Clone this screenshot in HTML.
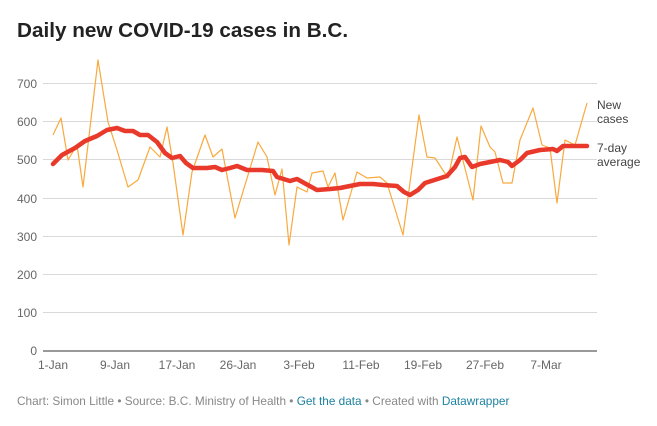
<!DOCTYPE html>
<html><head><meta charset="utf-8"><style>
body{margin:0;background:#fff;width:657px;height:421px;overflow:hidden;font-family:"Liberation Sans",sans-serif}
</style></head><body>
<svg width="657" height="421" xmlns="http://www.w3.org/2000/svg" font-family="Liberation Sans, sans-serif">
<text x="17" y="37" font-size="20.7" font-weight="bold" fill="#222">Daily new COVID-19 cases in B.C.</text>
<g stroke="#d9d9d9" stroke-width="1">
<line x1="43" x2="597" y1="83.5" y2="83.5"/><line x1="43" x2="597" y1="121.5" y2="121.5"/><line x1="43" x2="597" y1="159.5" y2="159.5"/><line x1="43" x2="597" y1="198.5" y2="198.5"/><line x1="43" x2="597" y1="236.5" y2="236.5"/><line x1="43" x2="597" y1="274.5" y2="274.5"/><line x1="43" x2="597" y1="312.5" y2="312.5"/>
</g>
<line x1="43" x2="597" y1="351" y2="351" stroke="#333" stroke-width="1"/>
<g font-size="12" fill="#666" text-anchor="end">
<text x="37" y="88">700</text><text x="37" y="126">600</text><text x="37" y="164">500</text><text x="37" y="203">400</text><text x="37" y="241">300</text><text x="37" y="279">200</text><text x="37" y="317">100</text><text x="37" y="355">0</text>
</g>
<g font-size="12" fill="#666" text-anchor="middle">
<text x="53" y="369">1-Jan</text><text x="115" y="369">9-Jan</text><text x="177" y="369">17-Jan</text><text x="238" y="369">26-Jan</text><text x="299" y="369">3-Feb</text><text x="361" y="369">11-Feb</text><text x="423" y="369">19-Feb</text><text x="485" y="369">27-Feb</text><text x="546" y="369">7-Mar</text>
</g>
<polyline fill="none" stroke="#f9a93d" stroke-width="1.2" stroke-linejoin="round" points="53,135 61,118 68,160 77,145 83,187 98,60 108,122 117,150 128,187 138,180 150,147 160,157 167,127 173,163 183,235 192,172 205,135 213,157 222,149 235,218 258,142 267,157 275,195 282,169 289,245 297,187 307,192 312,173 323,171 328,187 335,173 343,220 357,172 367,178 380,177 387,183 403,235 419,115 427,157 435,158 448,178 457,137 473,200 481,126 490,147 495,152 503,183 512,183 520,140 533,108 542,145 550,148 557,203 565,140 575,145 587,103"/>
<polyline fill="none" stroke="#e8392a" stroke-width="4.5" stroke-linejoin="round" stroke-linecap="round" points="53,164 62,155 75,148 85,141 97,136 107,130 117,128 125,131 133,131 140,135 148,135 157,142 165,153 172,158 180,156 186,163 193,168 207,168 215,167 222,170 230,168 237,166 247,170 262,170 273,171 277,177 290,181 297,179 306,184 317,190 330,189 340,188 350,186 360,184 373,184 383,185 397,186 404,192 410,195 418,190 425,183 447,176 455,167 460,158 465,157 472,167 480,164 500,160 508,162 512,166 520,160 527,153 540,150 553,149 557,151 563,146 587,146"/>
<g font-size="12" fill="#444">
<text x="597" y="109">New</text><text x="597" y="123">cases</text>
<text x="597" y="152">7-day</text><text x="597" y="166">average</text>
</g>
<text x="17" y="405" font-size="11.8" fill="#888">Chart: Simon Little • Source: B.C. Ministry of Health • <tspan fill="#1d81a2">Get the data</tspan> • Created with <tspan fill="#1d81a2">Datawrapper</tspan></text>
</svg>
</body></html>
